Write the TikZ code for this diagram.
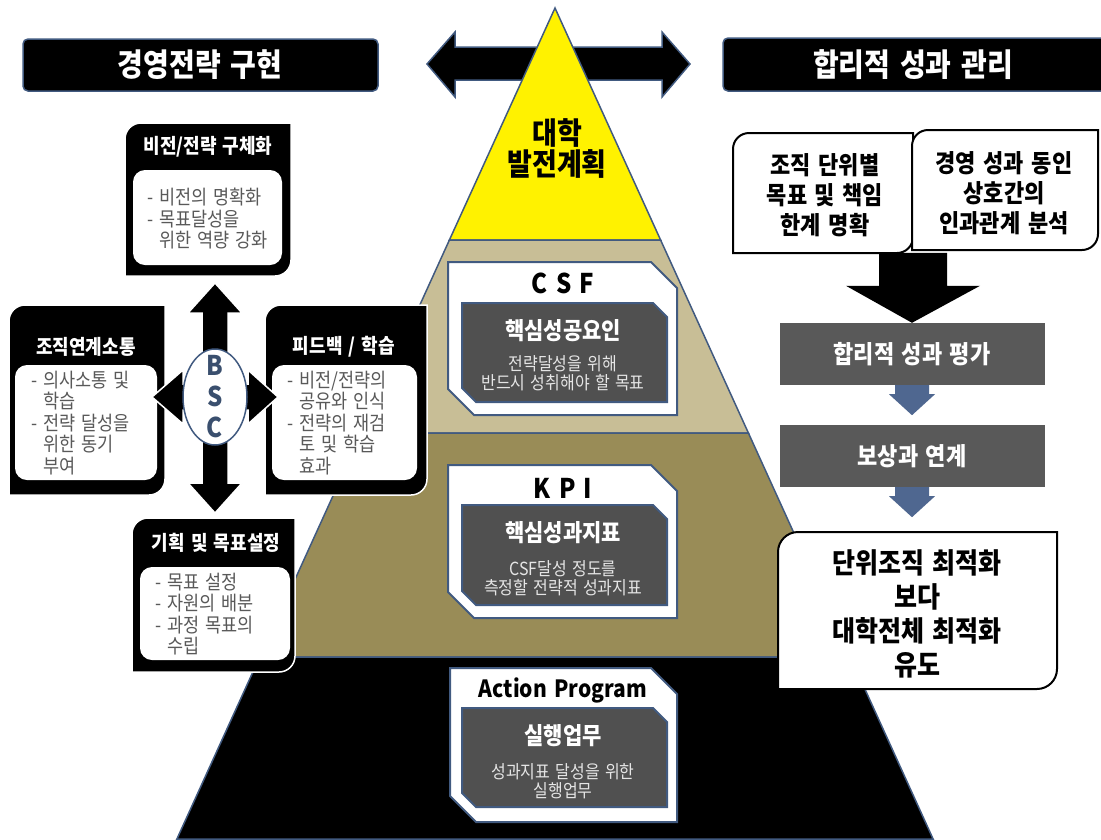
\documentclass[tikz,border=0pt]{standalone}
\usepackage{fontspec}
\setmainfont{Noto Sans CJK KR}[Scale=1.13,FakeStretch=0.885,WordSpace=1.5]
\usetikzlibrary{shapes.geometric,calc}
\definecolor{bord}{RGB}{65,90,128}
\definecolor{arrowblue}{RGB}{79,103,144}
\definecolor{bscblue}{RGB}{58,79,110}
\definecolor{tanlvl}{RGB}{200,190,150}
\definecolor{olivelvl}{RGB}{153,140,87}
\definecolor{dgray}{RGB}{89,89,89}
\definecolor{igray}{RGB}{80,80,80}
\definecolor{txtgray}{RGB}{89,89,89}
% box with rounded top-left and bottom-right corners: x1,y1,x2,y2,radius
\newcommand{\tlbrpath}[5]{(#1,#4) -- (#1,#2+#5) arc[start angle=180,end angle=270,radius=#5] -- (#3,#2) -- (#3,#4-#5) arc[start angle=0,end angle=90,radius=#5] -- cycle}
% box with snipped top-right and bottom-left corners
\newcommand{\snippath}[5]{(#1,#2) -- (#3-#5,#2) -- (#3,#2+#5) -- (#3,#4) -- (#1+#5,#4) -- (#1,#4-#5) -- cycle}
\begin{document}
\begin{tikzpicture}[x=1pt,y=-1pt,
    tier/.style={draw=bord,line width=1.5pt},
    hdr/.style={fill=black,draw=bord,line width=1.5pt,rounded corners=5pt},
    hdrtext/.style={text=white,font=\bfseries\fontsize{28}{30}\selectfont},
    bscbox/.style={fill=black,draw=white,line width=1.5pt},
    bscinner/.style={fill=white,rounded corners=12pt},
    bsctitle/.style={text=white,font=\bfseries\fontsize{18}{20}\selectfont},
    bsctext/.style={text=txtgray,align=left,anchor=west,inner sep=0pt,
      font=\fontsize{17.5}{21.5}\selectfont},
    crossarrow/.style={fill=black,draw=white,line width=1.5pt},
    outerbox/.style={fill=white,draw=bord,line width=2pt},
    innerbox/.style={fill=igray,draw=bord,line width=2pt},
    keyname/.style={font=\bfseries\fontsize{24}{26}\selectfont},
    innertitle/.style={text=white,font=\bfseries\fontsize{21}{24}\selectfont},
    innertext/.style={text=white!90!black,align=center,inner sep=0pt,
      font=\fontsize{16}{19.5}\selectfont},
    whitebox/.style={fill=white,draw=black,line width=2pt},
    whitetext/.style={align=center,inner sep=0pt,font=\bfseries\fontsize{22}{30}\selectfont},
    graybox/.style={fill=dgray,text=white,minimum width=265pt,minimum height=62pt,
      inner sep=0pt,font=\bfseries\fontsize{22}{24}\selectfont},
    smallarrow/.style={fill=arrowblue}]
  \useasboundingbox (0,0) rectangle (1101,839);
  \clip (0,0) rectangle (1101,839);

  % double arrow behind the pyramid
  \path[fill=black,draw=bord,line width=1.5pt] (427,64) -- (455,32) -- (455,47) -- (662,47)
    -- (662,32) -- (690,64) -- (662,97) -- (662,80) -- (455,80) -- (455,97) -- cycle;

  % pyramid
  \path[fill=yellow,tier] (555,8) -- (660.6,240) -- (449.4,240) -- cycle;
  \path[fill=tanlvl,tier] (449.4,240) -- (660.6,240) -- (748.4,433) -- (361.6,433) -- cycle;
  \path[fill=olivelvl,tier] (361.6,433) -- (748.4,433) -- (850.3,657) -- (259.7,657) -- cycle;
  \path[fill=black,tier] (259.7,657) -- (850.3,657) -- (933.1,839) -- (176.9,839) -- cycle;
  \node[font=\bfseries\fontsize{27}{31}\selectfont,align=center] (plan) at (557,148) {대학\\발전계획};

  % headers
  \path[hdr] (23,39) rectangle (378,91);
  \node[hdrtext] (lefthdr) at (200,65) {경영전략 구현};
  \path[hdr] (723,38) rectangle (1115,91);
  \node[hdrtext] (righthdr) at (913,65) {합리적 성과 관리};

  % BSC boxes
  \path[bscbox] \tlbrpath{125}{123}{291}{276}{16};
  \path[bscinner] (133,170) rectangle (282,265);
  \node[bsctitle] (vision) at (208,147) {비전/전략 구체화};
  \node[bsctext] (visiontxt) at (147,219) {- 비전의 명확화\\- 목표달성을\\\phantom{- }위한 역량 강화};

  \path[bscbox] \tlbrpath{9}{305}{165}{495}{16};
  \path[bscinner] (15,365) rectangle (157,480);
  \node[bsctitle] (comm) at (86,347) {조직연계소통};
  \node[bsctext] (commtxt) at (31,423) {- 의사소통 및\\\phantom{- }학습\\- 전략 달성을\\\phantom{- }위한 동기\\\phantom{- }부여};

  \path[bscbox] \tlbrpath{265}{305}{427}{495}{16};
  \path[bscinner] (272,365) rectangle (417,480);
  \node[bsctitle] (feedback) at (344,347) {피드백 / 학습};
  \node[bsctext] (feedbacktxt) at (287,423) {- 비전/전략의\\\phantom{- }공유와 인식\\- 전략의 재검\\\phantom{- }토 및 학습\\\phantom{- }효과};

  \path[bscbox] \tlbrpath{132}{518}{295}{672}{16};
  \path[bscinner] (140,567) rectangle (290,660);
  \node[bsctitle] (planning) at (216,543) {기획 및 목표설정};
  \node[bsctext] (planningtxt) at (155,614) {- 목표 설정\\- 자원의 배분\\- 과정 목표의\\\phantom{- }수립};

  % BSC cross
  \path[crossarrow] (215,283) -- (242,313) -- (228,313) -- (228,483) -- (242,483) -- (215,513)
    -- (188,483) -- (202,483) -- (202,313) -- (188,313) -- cycle;
  \path[crossarrow] (152,397) -- (183,370) -- (183,384) -- (248,384) -- (248,370) -- (278,397)
    -- (248,424) -- (248,410) -- (183,410) -- (183,424) -- cycle;
  \node[ellipse,draw=bord,fill=white,line width=1.5pt,minimum width=64pt,minimum height=96pt,
    inner sep=0pt] (bsc) at (215,397) {};
  \node[text=bscblue,align=center,font=\bfseries\fontsize{24}{31}\selectfont] (bsctxt) at (bsc) {B\\S\\C};

  % CSF, KPI, action program
  \path[outerbox] \snippath{448}{262}{677}{415}{26};
  \path[innerbox] \snippath{462}{303}{667}{402}{14};
  \node[keyname] (csf) at (563,283) {C S F};
  \node[innertitle] (csftitle) at (563,331) {핵심성공요인};
  \node[innertext] (csftxt) at (563,373) {전략달성을 위해\\반드시 성취해야 할 목표};

  \path[outerbox] \snippath{448}{465}{677}{618}{26};
  \path[innerbox] \snippath{462}{505}{667}{605}{14};
  \node[keyname] (kpi) at (563,488) {K P I};
  \node[innertitle] (kpititle) at (563,533) {핵심성과지표};
  \node[innertext] (kpitxt) at (563,578) {CSF달성 정도를\\측정할 전략적 성과지표};

  \path[outerbox] \snippath{450}{668}{677}{822}{26};
  \path[innerbox] \snippath{462}{708}{667}{807}{14};
  \node[keyname,font=\bfseries\fontsize{21}{24}\selectfont] (action) at (563,690) {Action Program};
  \node[innertitle] (actiontitle) at (563,736) {실행업무};
  \node[innertext] (actiontxt) at (563,781) {성과지표 달성을 위한\\실행업무};

  % right side
  \path[whitebox] \tlbrpath{733}{133}{913}{253}{16};
  \path[whitebox] \tlbrpath{912}{130}{1098}{250}{16};
  \node[whitetext] (unit) at (825,195) {조직 단위별\\목표 및 책임\\한계 명확};
  \node[whitetext] (cause) at (1004,193) {경영 성과 동인\\상호간의\\인과관계 분석};

  \node[graybox] (eval) at (912,354) {합리적 성과 평가};
  \node[graybox] (reward) at (912,456) {보상과 연계};

  \path[fill=black] (eval.north) -- ++(-66,-37) -- ++(33,0) -- ++(0,-33) -- ++(68,0)
    -- ++(0,33) -- ++(33,0) -- cycle;
  \path[smallarrow] ($(eval.south)+(-17,0)$) -- ++(0,9) -- ++(-6,0) -- ($(eval.south)+(0,30)$)
    -- ++(23,-21) -- ++(-6,0) -- ++(0,-9) -- cycle;
  \path[smallarrow] ($(reward.south)+(-17,0)$) -- ++(0,9) -- ++(-6,0) -- ($(reward.south)+(0,30)$)
    -- ++(23,-21) -- ++(-6,0) -- ++(0,-9) -- cycle;

  \path[whitebox] \tlbrpath{778}{532}{1057}{689}{20};
  \node[whitetext,font=\bfseries\fontsize{25}{34}\selectfont] (goal) at (917,614)
    {단위조직 최적화\\보다\\대학전체 최적화\\유도};
\end{tikzpicture}
\end{document}
